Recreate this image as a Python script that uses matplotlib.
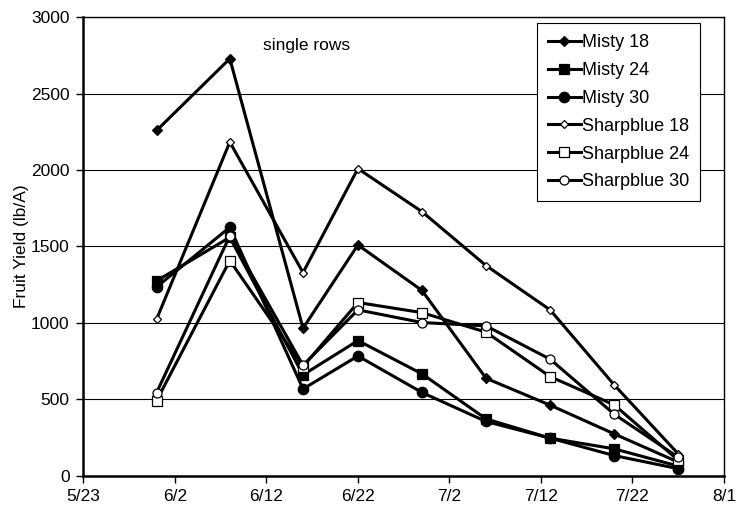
import datetime as dt
import matplotlib
matplotlib.use("Agg")
from matplotlib import pyplot as plt
import matplotlib.dates as mdates

plt.rcParams['font.family'] = ['Liberation Sans', 'DejaVu Sans']

# harvest dates (2000 season)
dates = ["5/31", "6/8", "6/16", "6/22", "6/29", "7/6", "7/13", "7/20", "7/27"]

misty_18 = [2260, 2730, 965, 1510, 1212, 637, 461, 273, 88]
misty_24 = [1275, 1560, 659, 884, 666, 371, 245, 175, 62]
misty_30 = [1235, 1626, 567, 783, 544, 354, 245, 131, 45]
sharpblue_18 = [1024, 2184, 1329, 2010, 1728, 1375, 1085, 594, 142]
sharpblue_24 = [491, 1408, 714, 1133, 1067, 939, 648, 463, 100]
sharpblue_30 = [543, 1570, 722, 1085, 1002, 980, 762, 402, 120]

series = [
    ("Misty 18", misty_18, "D", "black", 5.5),
    ("Misty 24", misty_24, "s", "black", 7.5),
    ("Misty 30", misty_30, "o", "black", 7.5),
    ("Sharpblue 18", sharpblue_18, "D", "white", 4.5),
    ("Sharpblue 24", sharpblue_24, "s", "white", 6.5),
    ("Sharpblue 30", sharpblue_30, "o", "white", 6.5),
]

x = [dt.datetime.strptime("2000/" + d, "%Y/%m/%d") for d in dates]

fig = plt.figure(figsize=(7.38, 5.13), dpi=100)
ax = fig.add_axes([0.113, 0.073, 0.868, 0.893])

for name, vals, mk, fc, ms in series:
    ax.plot(x, vals, color="black", linewidth=2.2, marker=mk, markersize=ms,
            markerfacecolor=fc, markeredgecolor="black", markeredgewidth=0.9,
            label=name)

ax.set_xlim(dt.datetime(2000, 5, 23), dt.datetime(2000, 8, 1))
ax.set_ylim(0, 3000)
ax.set_yticks(range(0, 3001, 500))
ticks = [dt.datetime(2000, 5, 23) + dt.timedelta(days=10 * i) for i in range(8)]
ax.set_xticks(ticks)
ax.xaxis.set_major_formatter(plt.FuncFormatter(
    lambda v, pos: "{}/{}".format(mdates.num2date(v).month, mdates.num2date(v).day)))

ax.grid(axis="y", color="black", linewidth=0.8)
ax.set_axisbelow(True)
for s in ax.spines.values():
    s.set_linewidth(1.0)
ax.spines["left"].set_linewidth(1.8)
ax.spines["bottom"].set_linewidth(1.8)
ax.tick_params(direction="out", length=5, width=1.0, labelsize=12.5, pad=5)
ax.set_ylabel("Fruit Yield (lb/A)", fontsize=12.5, labelpad=1.5)

ax.text(dt.datetime(2000, 6, 11, 14), 2819, "single rows", fontsize=12.5, va="center")

leg = ax.legend(loc="upper right", bbox_to_anchor=(0.9626, 0.987), fontsize=13,
                frameon=True, fancybox=False, edgecolor="black", framealpha=1,
                handlelength=1.85, handletextpad=0.05, labelspacing=0.6,
                borderpad=0.6, borderaxespad=0)
leg.get_frame().set_linewidth(0.8)

fig.savefig("out.png", dpi=100)
